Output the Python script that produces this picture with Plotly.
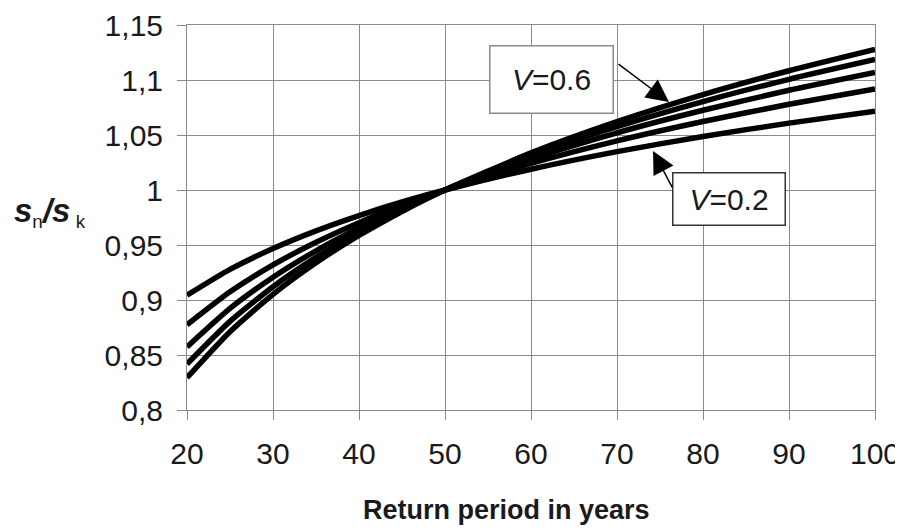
import plotly.graph_objects as go

# Return period (years)
return_period = [20, 25, 30, 35, 40, 45, 50, 60, 70, 80, 90, 100]

# s_n / s_k for coefficients of variation V
ratio_v02 = [0.9043, 0.9278, 0.9468, 0.9629, 0.9768, 0.9891, 1.0, 1.0189, 1.0349, 1.0487, 1.0608, 1.0717]
ratio_v03 = [0.8774, 0.9074, 0.9319, 0.9525, 0.9703, 0.9860, 1.0, 1.0242, 1.0447, 1.0623, 1.0779, 1.0919]
ratio_v04 = [0.8573, 0.8923, 0.9207, 0.9447, 0.9654, 0.9837, 1.0, 1.0282, 1.0520, 1.0725, 1.0907, 1.1069]
ratio_v05 = [0.8418, 0.8806, 0.9121, 0.9387, 0.9617, 0.9819, 1.0, 1.0313, 1.0576, 1.0804, 1.1006, 1.1186]
ratio_v06 = [0.8294, 0.8712, 0.9052, 0.9339, 0.9587, 0.9805, 1.0, 1.0337, 1.0621, 1.0867, 1.1084, 1.1278]

series = [("V=0.2", ratio_v02), ("V=0.3", ratio_v03), ("V=0.4", ratio_v04),
          ("V=0.5", ratio_v05), ("V=0.6", ratio_v06)]

x_ticks = [20, 30, 40, 50, 60, 70, 80, 90, 100]
y_ticks = [0.8, 0.85, 0.9, 0.95, 1.0, 1.05, 1.1, 1.15]
y_ticktext = ["0,8", "0,85", "0,9", "0,95", "1", "1,05", "1,1", "1,15"]

FONT = "Liberation Sans, Arial, Helvetica, sans-serif"
GRID = "#8a8a8a"
TXT = "#1a1a1a"

# page body has an 8px default margin; plot area wanted at page px 187..875, 25..410
OFF = 8
PL, PR, PT, PB = 187, 875, 25, 410
W, H = 903 - OFF, 530 - OFF
PW, PH = PR - PL, PB - PT

fig = go.Figure()
for name, vals in series:
    fig.add_trace(go.Scatter(
        x=return_period, y=vals, mode="lines", name=name,
        line=dict(color="black", width=5.5, shape="spline", smoothing=0.6),
        showlegend=False,
    ))

fig.update_layout(
    width=W, height=H,
    margin=dict(l=PL - OFF, r=W - (PR - OFF), t=PT - OFF, b=H - (PB - OFF), autoexpand=False),
    paper_bgcolor="white", plot_bgcolor="white",
    font=dict(family=FONT, color=TXT, size=30),
)
fig.update_xaxes(
    range=[20, 100], tickvals=x_ticks,
    showgrid=True, gridcolor=GRID, gridwidth=1,
    showline=True, linecolor=GRID, linewidth=1, mirror=True,
    ticks="outside", ticklen=9, tickcolor=GRID,
    tickfont=dict(size=30, family=FONT, color=TXT),
    ticklabelstandoff=8, zeroline=False,
)
fig.update_yaxes(
    range=[0.8, 1.15], tickvals=y_ticks, ticktext=y_ticktext,
    showgrid=True, gridcolor=GRID, gridwidth=1,
    showline=True, linecolor=GRID, linewidth=1, mirror=True,
    ticks="outside", ticklen=9, tickcolor=GRID,
    tickfont=dict(size=30, family=FONT, color=TXT),
    ticklabelstandoff=8, zeroline=False,
)

# axis titles (positions in page pixels converted to plot-area fractions)
fig.add_annotation(
    text="<b>Return period in years</b>", xref="paper", yref="paper",
    x=(506 - PL) / PW, y=-(510 - PB) / PH, xanchor="center", yanchor="middle",
    showarrow=False, font=dict(size=27, family=FONT, color=TXT),
)
fig.add_annotation(
    text=("<b><i>s</i></b><span style='font-size:27px'><sub>n</sub></span>"
          "<b><i>/s</i></b><span style='font-size:27px'><sub> k</sub></span>"),
    xref="paper", yref="paper",
    x=-(PL - 12) / PW, y=(PB - 212) / PH, xanchor="left", yanchor="middle",
    showarrow=False, font=dict(size=33, family=FONT, color=TXT),
)

# label boxes
fig.add_annotation(
    text="<i>V</i>=0.6", x=62.33, y=1.1009, xref="x", yref="y",
    showarrow=False, xanchor="center", yanchor="middle",
    width=122, height=66, borderpad=0, bordercolor="#8a8a8a", borderwidth=1.5,
    bgcolor="white", font=dict(size=30, family=FONT, color=TXT),
)
fig.add_annotation(
    text="<i>V</i>=0.2", x=83.08, y=0.9914, xref="x", yref="y",
    showarrow=False, xanchor="center", yanchor="middle",
    width=111, height=51, borderpad=0, bordercolor="#333333", borderwidth=1.5,
    bgcolor="white", font=dict(size=30, family=FONT, color=TXT),
)
# arrows
fig.add_annotation(
    text="", x=76.05, y=1.08, xref="x", yref="y", ax=-52, ay=-39,
    showarrow=True, arrowhead=2, arrowsize=3, arrowwidth=1.5, arrowcolor="black",
)
fig.add_annotation(
    text="", x=74.19, y=1.0355, xref="x", yref="y", ax=20, ay=38,
    showarrow=True, arrowhead=2, arrowsize=3, arrowwidth=1.5, arrowcolor="black",
)

fig.write_html("out.html")
